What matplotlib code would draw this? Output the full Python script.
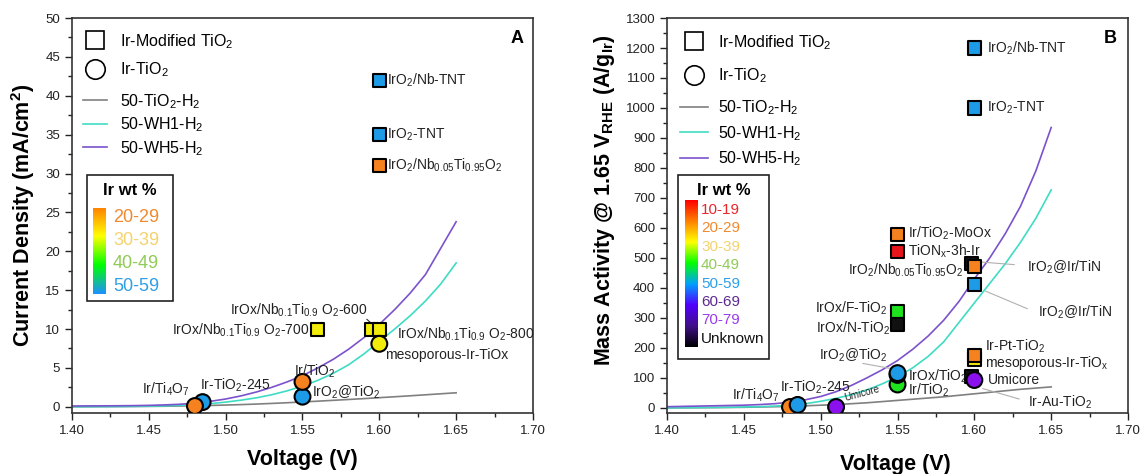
import numpy as np
import matplotlib.pyplot as plt
from matplotlib.lines import Line2D
from matplotlib.patches import Rectangle
from matplotlib.colors import LinearSegmentedColormap

plt.rcParams['font.family'] = ['Liberation Sans', 'DejaVu Sans']
plt.rcParams['mathtext.fontset'] = 'custom'
plt.rcParams['mathtext.rm'] = 'Liberation Sans'
plt.rcParams['mathtext.it'] = 'Liberation Sans'
plt.rcParams['mathtext.bf'] = 'Liberation Sans:bold'

# polarisation curves
volts = [1.40, 1.41, 1.42, 1.43, 1.44, 1.45, 1.46, 1.47, 1.48, 1.49, 1.50, 1.51, 1.52,
         1.53, 1.54, 1.55, 1.56, 1.57, 1.58, 1.59, 1.60, 1.61, 1.62, 1.63, 1.64, 1.65]
tio2_j = [0.0, 0.01, 0.02, 0.03, 0.04, 0.05, 0.07, 0.10, 0.13, 0.17, 0.22, 0.28, 0.35,
          0.43, 0.52, 0.62, 0.72, 0.83, 0.94, 1.05, 1.17, 1.29, 1.41, 1.54, 1.67, 1.80]
wh1_j = [0.0, 0.01, 0.02, 0.03, 0.05, 0.08, 0.12, 0.18, 0.27, 0.40, 0.60, 0.85, 1.15,
         1.55, 2.05, 2.65, 3.40, 4.30, 5.40, 6.80, 8.40, 10.0, 11.7, 13.6, 15.8, 18.5]
wh5_j = [0.10, 0.11, 0.12, 0.13, 0.15, 0.18, 0.24, 0.32, 0.46, 0.70, 1.00, 1.40, 1.90,
         2.50, 3.20, 4.00, 5.00, 6.10, 7.40, 8.90, 10.6, 12.5, 14.6, 17.0, 20.4, 23.8]
tio2_ma = [0, 0.3, 0.6, 1, 1.5, 2, 3, 4, 5, 7, 9, 11, 14,
           17, 21, 25, 29, 33, 37, 42, 47, 52, 57, 62, 66, 70]
wh1_ma = [0, 0.5, 1, 1.5, 2, 3, 4, 6, 9, 14, 22, 32, 44,
          60, 80, 104, 134, 172, 220, 285, 350, 415, 480, 552, 632, 727]
wh5_ma = [4, 5, 6, 7, 8, 9, 11, 14, 19, 27, 38, 54, 75,
          100, 127, 158, 196, 240, 292, 355, 430, 500, 580, 672, 790, 935]

orange = '#f5821f'
blue = '#1e9be6'
yellow = '#f2ec0a'
green = '#1fe21f'
red = '#e8141b'
violet = '#8a10ee'
black = '#111111'

# panel A literature points
a_sq_x = [1.60, 1.60, 1.60, 1.56, 1.595, 1.60]
a_sq_y = [42, 35, 31, 10, 10, 10]
a_sq_c = [blue, blue, orange, yellow, yellow, yellow]
a_ci_x = [1.485, 1.48, 1.55, 1.55, 1.60]
a_ci_y = [0.6, 0.1, 1.3, 3.2, 8.1]
a_ci_c = [blue, orange, blue, orange, yellow]

a_labels = [r'IrO$_2$/Nb-TNT', r'IrO$_2$-TNT', r'IrO$_2$/Nb$_{0.05}$Ti$_{0.95}$O$_2$',
            r'IrOx/Nb$_{0.1}$Ti$_{0.9}$ O$_2$-700', r'IrOx/Nb$_{0.1}$Ti$_{0.9}$ O$_2$-600',
            r'IrOx/Nb$_{0.1}$Ti$_{0.9}$ O$_2$-800', 'mesoporous-Ir-TiOx',
            r'IrO$_2$@TiO$_2$', r'Ir/TiO$_2$', r'Ir-TiO$_2$-245', r'Ir/Ti$_4$O$_7$']
a_lab_x = [1.605, 1.605, 1.605, 1.5545, 1.592, 1.6115, 1.6035, 1.556, 1.5578, 1.483, 1.4768]
a_lab_y = [42, 35, 31, 9.8, 12.4, 9.3, 6.7, 1.9, 4.5, 2.8, 2.2]
a_lab_ha = ['left', 'left', 'left', 'right', 'right', 'left', 'left', 'left', 'center',
            'left', 'right']

# panel B literature points
b_sq_x = [1.60, 1.60, 1.55, 1.55, 1.598, 1.60, 1.60, 1.55, 1.55, 1.60, 1.60, 1.598]
b_sq_y = [1200, 1000, 577, 520, 482, 470, 413, 320, 277, 163, 175, 105]
b_sq_c = [blue, blue, orange, red, black, orange, blue, green, black, yellow, orange, black]
b_ci_x = [1.48, 1.485, 1.51, 1.55, 1.55, 1.55, 1.60]
b_ci_y = [3, 10, 3, 78, 110, 116, 93]
b_ci_c = [orange, blue, violet, green, blue, blue, violet]

b_labels = [r'IrO$_2$/Nb-TNT', r'IrO$_2$-TNT', r'Ir/TiO$_2$-MoOx', r'TiON$_x$-3h-Ir',
            r'IrO$_2$/Nb$_{0.05}$Ti$_{0.95}$O$_2$', r'IrOx/F-TiO$_2$', r'IrOx/N-TiO$_2$',
            r'IrO$_2$@TiO$_2$', r'IrOx/TiO$_2$', r'Ir/TiO$_2$', r'Ir/Ti$_4$O$_7$',
            r'Ir-TiO$_2$-245', r'Ir-Pt-TiO$_2$', r'mesoporous-Ir-TiO$_x$', 'Umicore',
            r'IrO$_2$@Ir/TiN', r'IrO$_2$@Ir/TiN', r'Ir-Au-TiO$_2$']
b_lab_x = [1.6082, 1.6082, 1.5568, 1.5568, 1.5926, 1.5432, 1.5451, 1.5438, 1.5568, 1.5568,
           1.4735, 1.4735, 1.607, 1.607, 1.6089, 1.6343, 1.6414, 1.635]
b_lab_y = [1200, 1000, 583, 523, 460, 333, 267, 177, 105, 60, 43, 70, 204, 150, 93,
           470, 320, 17]
b_lab_ha = ['left', 'left', 'left', 'left', 'right', 'right', 'right', 'right', 'left',
            'left', 'right', 'left', 'left', 'left', 'left', 'left', 'left', 'left']
# leader lines: (from label, to point)
b_lead = [((1.6278, 477), (1.6024, 487)), ((1.6362, 327), (1.6056, 393)),
          ((1.631, 27), (1.6037, 67)), ((1.5256, 150), (1.547, 130))]

legend_a = ['20-29', '30-39', '40-49', '50-59']
legend_a_col = ['#f08a2e', '#f3d36e', '#8fcb55', '#2e9fe6']
grad_a = ['#ff7f00', '#ffff00', '#00ff00', '#1e90ff']
legend_b = ['10-19', '20-29', '30-39', '40-49', '50-59', '60-69', '70-79', 'Unknown']
legend_b_col = ['#e8262b', '#f08a2e', '#f3d36e', '#8fcb55', '#2e9fe6', '#5e2a8f',
                '#9a3bea', '#111111']
grad_b = ['#ff0000', '#ff8000', '#ffff00', '#00ff00', '#00a0ff', '#5000ff', '#40108a',
          '#000000']

grey_c = '#808080'
teal_c = '#3fdcc4'
purp_c = '#7b52cc'

fig = plt.figure(figsize=(11.43, 4.74), dpi=100)
axA = fig.add_axes([0.063, 0.1287, 0.4033, 0.8333])
axB = fig.add_axes([0.5836, 0.1287, 0.4033, 0.8333])


def style(ax, ylim, major, minor):
    ax.set_xlim(1.40, 1.70)
    ax.set_ylim(*ylim)
    ax.set_xticks([1.40, 1.45, 1.50, 1.55, 1.60, 1.65, 1.70])
    ax.set_xticks(np.arange(1.40, 1.701, 0.025), minor=True)
    ax.set_yticks(np.arange(0, ylim[1] + 1, major))
    ax.set_yticks(np.arange(0, ylim[1] + 1, minor), minor=True)
    ax.xaxis.set_major_formatter(plt.FormatStrFormatter('%.2f'))
    ax.tick_params(which='both', direction='out', labelsize=9.5, width=1.0,
                   colors='#222222', top=False, right=False)
    ax.tick_params(which='major', length=5)
    ax.tick_params(which='minor', length=3)
    for s in ax.spines.values():
        s.set_linewidth(1.2)
        s.set_color('#333333')


def wt_box(ax, x0, x1, y0, y1, bar, labels, colors, grad, lx, ly0, dy, fs):
    ax.add_patch(Rectangle((x0, y0), x1 - x0, y1 - y0, transform=ax.transAxes,
                           facecolor='white', edgecolor='#222222', lw=1.2, zorder=6))
    ax.text((x0 + x1) / 2, y1 - 0.038, 'Ir wt %', transform=ax.transAxes, ha='center',
            va='center', fontsize=12, fontweight='bold', zorder=7)
    cax = ax.inset_axes(bar, zorder=7)
    cmap = LinearSegmentedColormap.from_list('wt', grad)
    cax.imshow(np.linspace(0, 1, 256).reshape(-1, 1), aspect='auto', cmap=cmap)
    cax.set_axis_off()
    for i, (t, c) in enumerate(zip(labels, colors)):
        ax.text(lx, ly0 - i * dy, t, transform=ax.transAxes, color=c, fontsize=fs,
                va='center', ha='left', zorder=7)


def marker_legends(ax, x, y1, y2, hl, pad, sp1, sp2):
    h1 = [Line2D([], [], ls='none', marker='s', markersize=13, markerfacecolor='white',
                 markeredgecolor='black', markeredgewidth=1.2),
          Line2D([], [], ls='none', marker='o', markersize=14, markerfacecolor='white',
                 markeredgecolor='black', markeredgewidth=1.2)]
    l1 = ax.legend(h1, [r'Ir-Modified TiO$_2$', r'Ir-TiO$_2$'], loc='upper left',
                   bbox_to_anchor=(x, y1), frameon=False, fontsize=11.5, borderpad=0,
                   borderaxespad=0, handlelength=hl, handletextpad=pad, labelspacing=sp1)
    ax.add_artist(l1)
    h2 = [Line2D([], [], color=grey_c, lw=1.2), Line2D([], [], color=teal_c, lw=1.2),
          Line2D([], [], color=purp_c, lw=1.2)]
    ax.legend(h2, [r'50-TiO$_2$-H$_2$', '50-WH1-H$_2$', '50-WH5-H$_2$'], loc='upper left',
              bbox_to_anchor=(x, y2), frameon=False, fontsize=11.5, borderpad=0,
              borderaxespad=0, handlelength=hl, handletextpad=pad, labelspacing=sp2)


# ---- panel A
style(axA, (-0.8, 50), 5, 2.5)
axA.plot(volts, tio2_j, color=grey_c, lw=1.2)
axA.plot(volts, wh1_j, color=teal_c, lw=1.2)
axA.plot(volts, wh5_j, color=purp_c, lw=1.2)
axA.scatter(a_sq_x, a_sq_y, s=88, marker='s', c=a_sq_c, edgecolors='black',
            linewidths=1.5, zorder=4)
axA.scatter(a_ci_x, a_ci_y, s=130, marker='o', c=a_ci_c, edgecolors='black',
            linewidths=1.5, zorder=5)
for t, x, y, ha in zip(a_labels, a_lab_x, a_lab_y, a_lab_ha):
    axA.text(x, y, t, ha=ha, va='center', fontsize=10, color='#222222', zorder=6)
axA.annotate('', xy=(1.5955, 10.6), xytext=(1.5905, 11.5),
             arrowprops=dict(arrowstyle='-', color='#333333', lw=0.8))
axA.text(0.965, 0.949, 'A', transform=axA.transAxes, fontsize=13, fontweight='bold',
         ha='center', va='center')
axA.set_xlabel('Voltage (V)', fontsize=15.5, fontweight='bold')
axA.set_ylabel(r'Current Density (mA/cm$\mathregular{^2}$)', fontsize=15.5,
               fontweight='bold')
axA.xaxis.set_label_coords(0.5, -0.092)
axA.yaxis.set_label_coords(-0.076, 0.5)
marker_legends(axA, 0.0239, 0.9646, 0.8127, 1.5, 0.8, 0.6, 0.3)
wt_box(axA, 0.0325, 0.219, 0.2835, 0.6025, [0.0456, 0.301, 0.028, 0.218],
       legend_a, legend_a_col, grad_a, 0.089, 0.4937, 0.0575, 13)

# ---- panel B
style(axB, (-17, 1300), 100, 50)
axB.plot(volts, tio2_ma, color=grey_c, lw=1.2)
axB.plot(volts, wh1_ma, color=teal_c, lw=1.2)
axB.plot(volts, wh5_ma, color=purp_c, lw=1.2)
for (x0, y0), (x1, y1) in b_lead:
    axB.annotate('', xy=(x1, y1), xytext=(x0, y0),
                 arrowprops=dict(arrowstyle='-', color='#b0b0b0', lw=0.8))
axB.scatter(b_sq_x, b_sq_y, s=88, marker='s', c=b_sq_c, edgecolors='black',
            linewidths=1.5, zorder=4)
axB.scatter(b_ci_x, b_ci_y, s=130, marker='o', c=b_ci_c, edgecolors='black',
            linewidths=1.5, zorder=5)
for t, x, y, ha in zip(b_labels, b_lab_x, b_lab_y, b_lab_ha):
    axB.text(x, y, t, ha=ha, va='center', fontsize=10, color='#222222', zorder=6)
axB.text(1.5269, 47, 'Umicore', fontsize=7, rotation=15, ha='center', va='center',
         color='#222222')
axB.text(0.961, 0.949, 'B', transform=axB.transAxes, fontsize=13, fontweight='bold',
         ha='center', va='center')
axB.set_xlabel('Voltage (V)', fontsize=15.5, fontweight='bold')
axB.set_ylabel(r'Mass Activity @ 1.65 V$\mathregular{_{RHE}}$ (A/g$\mathregular{_{Ir}}$)',
               fontsize=15.5, fontweight='bold')
axB.xaxis.set_label_coords(0.4946, -0.104)
axB.yaxis.set_label_coords(-0.108, 0.539)
marker_legends(axB, 0.0282, 0.962, 0.797, 1.75, 0.62, 0.94, 0.44)
wt_box(axB, 0.0239, 0.221, 0.137, 0.6025, [0.039, 0.167, 0.028, 0.372],
       legend_b, legend_b_col, grad_b, 0.0738, 0.5139, 0.0466, 11)

fig.savefig('out.png', dpi=100)
